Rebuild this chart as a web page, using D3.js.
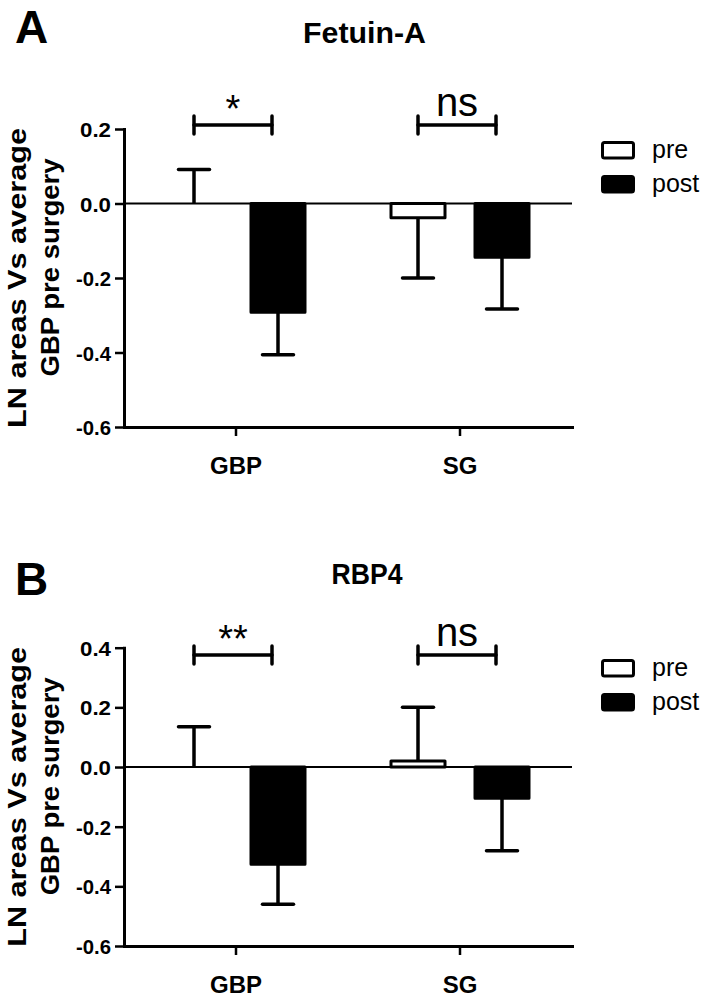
<!DOCTYPE html>
<html><head><meta charset="utf-8">
<script src="https://cdn.jsdelivr.net/npm/d3@7"></script>
<style>
body{margin:0;background:#fff}
svg text{font-family:"Liberation Sans",Arial,Helvetica,sans-serif;fill:#000}
</style>
</head><body>
<svg id="c" width="704" height="1001"></svg>
<script>
// ---- data ----
const categories = ["GBP", "SG"];
const series = ["pre", "post"];

const fetuinPre = [0.0, -0.038];
const fetuinPreSem = [0.091, 0.162];
const fetuinPost = [-0.292, -0.144];
const fetuinPostSem = [0.114, 0.139];
const fetuinTicks = [0.2, 0.0, -0.2, -0.4, -0.6];
const fetuinSig = ["*", "ns"];

const rbp4Pre = [0.0, 0.02];
const rbp4PreSem = [0.135, 0.18];
const rbp4Post = [-0.326, -0.105];
const rbp4PostSem = [0.134, 0.176];
const rbp4Ticks = [0.4, 0.2, 0.0, -0.2, -0.4, -0.6];
const rbp4Sig = ["**", "ns"];

const yTitle1 = "LN areas Vs average";
const yTitle2 = "GBP pre surgery";

// ---- drawing ----
const svg = d3.select("#c");

function panel(cfg) {
  const g = svg.append("g");
  const x0 = d3.scaleBand().domain(categories).range([124, 572]);
  const x1 = d3.scaleBand().domain(series).range([-70, 70]).paddingInner(1/3);
  const bw = x1.bandwidth();
  const y = d3.scaleLinear().domain([d3.min(cfg.ticks), d3.max(cfg.ticks)]).range([cfg.bottom, cfg.top]);

  // panel letter and title
  g.append("text").attr("x", 15).attr("y", cfg.letterY).attr("font-size", 46).attr("font-weight", "bold").text(cfg.letter);
  g.append("text").attr("x", cfg.titleX).attr("y", cfg.titleY).attr("text-anchor", "middle")
    .attr("font-size", 30).attr("font-weight", "bold")
    .attr("textLength", cfg.titleLen).attr("lengthAdjust", "spacingAndGlyphs").text(cfg.title);

  // y title
  const cy = (cfg.top + cfg.bottom) / 2;
  g.append("text").attr("transform", "rotate(-90)").attr("x", -cy).attr("y", 26)
    .attr("text-anchor", "middle").attr("font-size", 25).attr("font-weight", "bold")
    .attr("textLength", 300).attr("lengthAdjust", "spacingAndGlyphs").text(yTitle1);
  g.append("text").attr("transform", "rotate(-90)").attr("x", -(cy - 10.5)).attr("y", 59)
    .attr("text-anchor", "middle").attr("font-size", 25).attr("font-weight", "bold")
    .attr("textLength", 218).attr("lengthAdjust", "spacingAndGlyphs").text(yTitle2);

  // y axis
  const ya = g.append("g").attr("transform", "translate(124,0)")
    .call(d3.axisLeft(y).tickValues(cfg.ticks).tickSize(9).tickSizeOuter(0).tickPadding(4)
      .tickFormat(d => d.toFixed(1)));
  ya.select(".domain").attr("stroke", "#000").attr("stroke-width", 3).attr("stroke-linecap", "square");
  ya.selectAll(".tick line").attr("stroke", "#000").attr("stroke-width", 2.5);
  ya.selectAll(".tick text").attr("font-size", 20).attr("font-weight", "bold").attr("font-family", null)
    .attr("dy", "0.38em")
    .attr("textLength", d => d < 0 ? 35 : 31).attr("lengthAdjust", "spacingAndGlyphs");

  // x axis
  const xa = g.append("g").attr("transform", `translate(0,${cfg.bottom})`)
    .call(d3.axisBottom(x0).tickSize(9).tickSizeOuter(0));
  xa.select(".domain").attr("stroke", "#000").attr("stroke-width", 3).attr("stroke-linecap", "square");
  xa.selectAll(".tick line").attr("stroke", "#000").attr("stroke-width", 2.5);
  xa.selectAll(".tick text").attr("font-size", 24).attr("font-weight", "bold").attr("font-family", null)
    .attr("y", 47).attr("dy", 0);

  // zero line
  g.append("line").attr("x1", 124).attr("x2", 572).attr("y1", y(0)).attr("y2", y(0))
    .attr("stroke", "#000").attr("stroke-width", 2);

  // bars + error bars
  const rows = [];
  categories.forEach((c, i) => {
    rows.push({c, s: "pre", v: cfg.pre[i], e: cfg.preSem[i]});
    rows.push({c, s: "post", v: cfg.post[i], e: cfg.postSem[i]});
  });
  rows.forEach(r => {
    const cx = x0(r.c) + x0.bandwidth() / 2 + x1(r.s) + bw / 2;
    const fill = r.s === "pre" ? "#fff" : "#000";
    const dir = r.v < 0 ? -1 : 1;
    const yEnd = y(r.v + dir * r.e);
    g.append("line").attr("x1", cx).attr("x2", cx).attr("y1", y(r.v)).attr("y2", yEnd)
      .attr("stroke", "#000").attr("stroke-width", 3.5);
    g.append("line").attr("x1", cx - 15.5).attr("x2", cx + 15.5).attr("y1", yEnd).attr("y2", yEnd)
      .attr("stroke", "#000").attr("stroke-width", 3.5).attr("stroke-linecap", "round");
    if (r.v !== 0) {
      g.append("rect").attr("x", cx - bw / 2 + 1).attr("width", bw - 2)
        .attr("y", Math.min(y(0), y(r.v))).attr("height", Math.abs(y(r.v) - y(0)))
        .attr("fill", fill).attr("stroke", "#000").attr("stroke-width", 3).attr("stroke-linejoin", "round");
    }
  });

  // significance brackets
  categories.forEach((c, i) => {
    const xa_ = x0(c) + x0.bandwidth() / 2 + x1("pre") + bw / 2;
    const xb_ = x0(c) + x0.bandwidth() / 2 + x1("post") + bw / 2 - 6;
    const by = cfg.bracketY;
    const bg = g.append("g").attr("stroke", "#000").attr("stroke-width", 3.5).attr("stroke-linecap", "round");
    bg.append("line").attr("x1", xa_).attr("x2", xb_).attr("y1", by).attr("y2", by);
    bg.append("line").attr("x1", xa_).attr("x2", xa_).attr("y1", by - 9).attr("y2", by + 9);
    bg.append("line").attr("x1", xb_).attr("x2", xb_).attr("y1", by - 9).attr("y2", by + 9);
    const lab = cfg.sig[i];
    const isNs = lab === "ns";
    g.append("text").attr("x", (xa_ + xb_) / 2).attr("y", isNs ? by - 9 : by - 3)
      .attr("text-anchor", "middle").attr("font-size", isNs ? 40 : 38).text(lab);
  });

  // legend
  series.forEach((s, i) => {
    const ly = cfg.legendY + i * 34;
    g.append("rect").attr("x", 602.5).attr("y", ly + 1.5).attr("width", 31).attr("height", 15.5)
      .attr("rx", 2).attr("fill", s === "pre" ? "#fff" : "#000").attr("stroke", "#000").attr("stroke-width", 3);
    g.append("text").attr("x", 652).attr("y", ly + 17).attr("font-size", 25).text(s);
  });
}

panel({
  letter: "A", letterY: 43, title: "Fetuin-A", titleX: 364.5, titleY: 43, titleLen: 123,
  ticks: fetuinTicks, top: 129, bottom: 427,
  pre: fetuinPre, preSem: fetuinPreSem, post: fetuinPost, postSem: fetuinPostSem,
  sig: fetuinSig, bracketY: 125, legendY: 141
});
panel({
  letter: "B", letterY: 595, title: "RBP4", titleX: 367, titleY: 584, titleLen: 71,
  ticks: rbp4Ticks, top: 647.7, bottom: 946,
  pre: rbp4Pre, preSem: rbp4PreSem, post: rbp4Post, postSem: rbp4PostSem,
  sig: rbp4Sig, bracketY: 655, legendY: 659
});
</script>
</body></html>
